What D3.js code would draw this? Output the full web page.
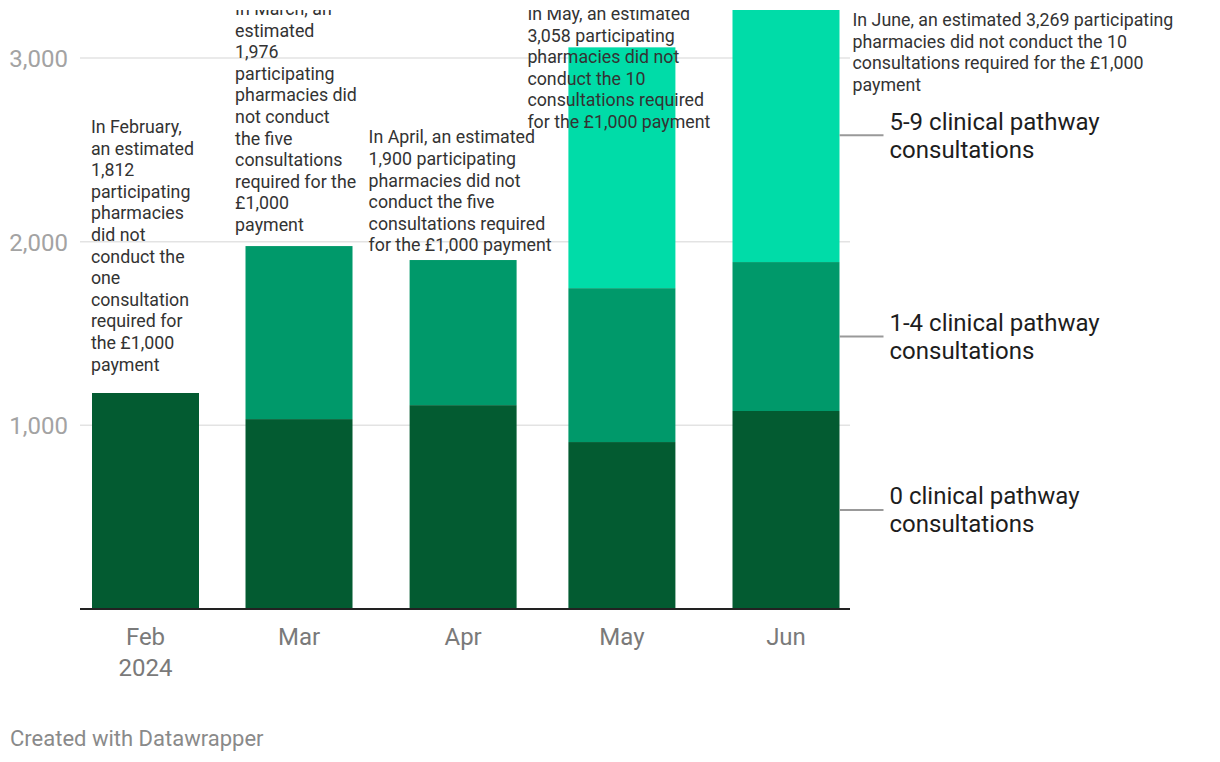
<!DOCTYPE html>
<html>
<head>
<meta charset="utf-8">
<script src="https://cdn.jsdelivr.net/npm/d3@7"></script>
<style>
  html, body { margin: 0; padding: 0; background: #fff; }
  svg { display: block; font-family: Roboto, "Noto Sans", sans-serif; }
</style>
</head>
<body>
<svg id="chart" width="1220" height="762"></svg>
<script>
// ---- data ----
const months = ["2024-02-01", "2024-03-01", "2024-04-01", "2024-05-01", "2024-06-01"];
const monthLabels = ["Feb", "Mar", "Apr", "May", "Jun"];
const yearLabels = ["2024", "", "", "", ""];
const seriesNames = ["0 clinical pathway consultations", "1-4 clinical pathway consultations", "5-9 clinical pathway consultations"];
const zeroConsult = [1176, 1034, 1110, 909, 1078];
const oneToFour = [0, 942, 790, 838, 811];
const fiveToNine = [0, 0, 0, 1311, 1380];
const yTicks = [1000, 2000, 3000];
const colors = ["#035b31", "#00996a", "#00dca8"];

const annoMonths = ["2024-02-01", "2024-03-01", "2024-04-01", "2024-05-01", "2024-06-01"];
const annoValues = [2592, 3234, 2535, 3207, 3174];
const annoLines = [
  ["In February,", "an estimated", "1,812", "participating", "pharmacies", "did not", "conduct the", "one", "consultation", "required for", "the £1,000", "payment"],
  ["In March, an", "estimated", "1,976", "participating", "pharmacies did", "not conduct", "the five", "consultations", "required for the", "£1,000", "payment"],
  ["In April, an estimated", "1,900 participating", "pharmacies did not", "conduct the five", "consultations required", "for the £1,000 payment"],
  ["In May, an estimated", "3,058 participating", "pharmacies did not", "conduct the 10", "consultations required", "for the £1,000 payment"],
  ["In June, an estimated 3,269 participating", "pharmacies did not conduct the 10", "consultations required for the £1,000", "payment"]
];

// ---- build ----
const parse = d3.utcParse("%Y-%m-%d");
const table = months.map((m, i) => ({
  date: parse(m),
  s0: zeroConsult[i], s1: oneToFour[i], s2: fiveToNine[i]
}));

const svg = d3.select("#chart");
const defs = svg.append("defs");
defs.append("clipPath").attr("id", "clip").append("rect")
  .attr("x", 0).attr("y", 10).attr("width", 1220).attr("height", 752);

const g = svg.append("g").attr("clip-path", "url(#clip)");

const x = d3.scaleUtc().domain([parse(months[0]), parse(months[4])]).range([145.5, 786]);
const y = d3.scaleLinear().domain([0, 3000]).range([609, 58]);
const barW = 107;
const plotLeft = 80, plotRight = 850;

// gridlines
g.append("g").selectAll("line").data(yTicks).join("line")
  .attr("x1", plotLeft).attr("x2", plotRight)
  .attr("y1", d => y(d)).attr("y2", d => y(d))
  .attr("stroke", "#e3e3e3").attr("stroke-width", 1.5);

// y axis labels
const yAxis = d3.axisLeft(y).tickValues(yTicks).tickSize(0).tickPadding(0)
  .tickFormat(d3.format(","));
const ya = g.append("g").attr("transform", "translate(68,0)").call(yAxis);
ya.select(".domain").remove();
ya.selectAll("text").attr("font-size", 24).attr("fill", "#a3a3a3")
  .attr("font-family", "Roboto").attr("dy", "0.35em");

// bars
const stack = d3.stack().keys(["s0", "s1", "s2"]);
const layers = stack(table);
g.append("g").selectAll("g").data(layers).join("g")
  .attr("fill", (d, i) => colors[i])
  .selectAll("rect").data(d => d).join("rect")
  .attr("x", d => x(d.data.date) - barW / 2)
  .attr("width", barW)
  .attr("y", d => y(d[1]))
  .attr("height", d => Math.max(0, y(d[0]) - y(d[1])));

// baseline
g.append("line").attr("x1", plotLeft).attr("x2", plotRight)
  .attr("y1", y(0)).attr("y2", y(0)).attr("stroke", "#222").attr("stroke-width", 2);

// x labels
const xl = g.append("g").selectAll("text").data(table).join("text")
  .attr("x", d => x(d.date)).attr("y", y(0) + 36)
  .attr("text-anchor", "middle").attr("font-size", 24).attr("fill", "#7a7a7a");
xl.append("tspan").text((d, i) => monthLabels[i]);
xl.append("tspan").attr("x", d => x(d.date)).attr("dy", 31).text((d, i) => yearLabels[i]);

// legend labels (right of last bar, at segment midpoints)
const last = layers.map(l => l[l.length - 1]);
const lastX = x(table[table.length - 1].date) + barW / 2;
const leg = g.append("g").selectAll("g").data(last).join("g")
  .attr("transform", d => `translate(${lastX},${y((d[0] + d[1]) / 2)})`);
leg.append("line").attr("x1", 0).attr("x2", 44).attr("stroke", "#999").attr("stroke-width", 2);
const lt = leg.append("text").attr("x", 50).attr("font-size", 24).attr("fill", "#1d1d1d");
lt.append("tspan").attr("x", 50).attr("y", -14).attr("dy", "0.35em")
  .text((d, i) => seriesNames[i].replace(" consultations", ""));
lt.append("tspan").attr("x", 50).attr("y", 14).attr("dy", "0.35em").text("consultations");

// annotations
const ann = g.append("g").selectAll("text").data(annoLines).join("text")
  .attr("font-size", 17.8).attr("fill", "#333");
ann.each(function(lines, i) {
  const t = d3.select(this);
  const y0 = y(annoValues[i]);
  lines.forEach((ln, k) => {
    t.append("tspan").attr("x", 0).attr("y", y0 + k * 21.6).text(ln);
  });
});
ann.each(function(lines, i) {
  const t = d3.select(this);
  let w = 0;
  t.selectAll("tspan").each(function() { w = Math.max(w, this.getComputedTextLength()); });
  const cx = x(parse(annoMonths[i]));
  const left = (i === annoLines.length - 1) ? cx + barW / 2 + 13 : cx - w / 2 - 3;
  t.selectAll("tspan").attr("x", left);
});

// footer
svg.append("text").attr("x", 10).attr("y", 746).attr("font-size", 22)
  .attr("fill", "#8a8a8a").text("Created with Datawrapper");
</script>
</body>
</html>
